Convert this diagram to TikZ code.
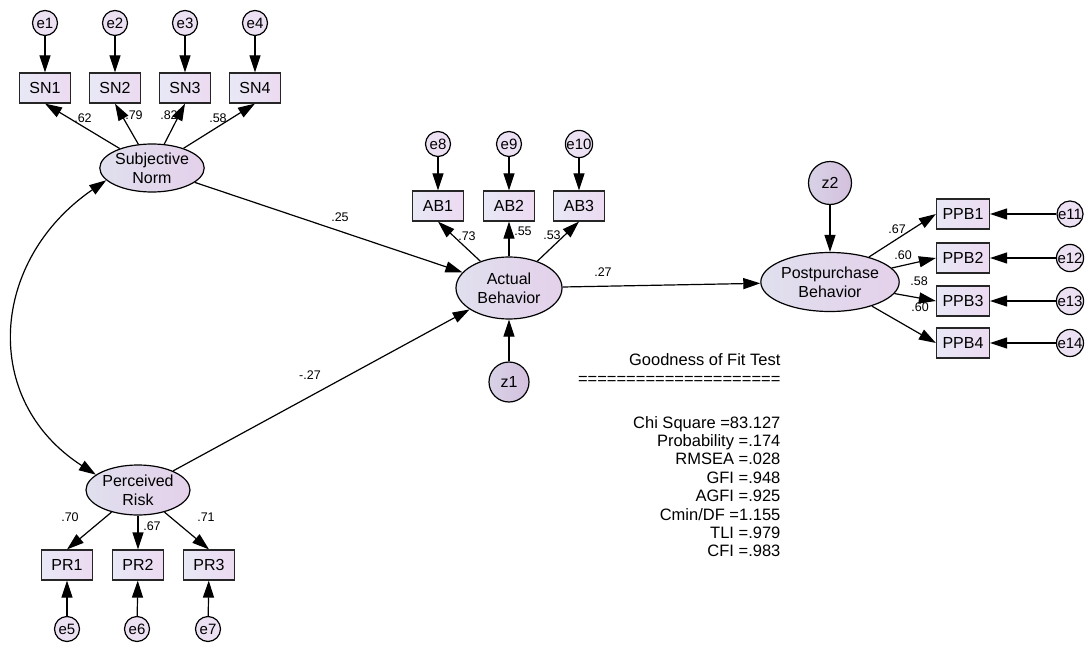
\documentclass[tikz,border=0pt]{standalone}
\usepackage{fontspec}
\setmainfont{Liberation Sans}
\usetikzlibrary{arrows.meta,shapes.geometric}
\definecolor{boxl}{RGB}{232,232,246}
\definecolor{boxr}{RGB}{236,218,241}
\definecolor{latl}{RGB}{224,224,238}
\definecolor{latr}{RGB}{228,208,234}
\definecolor{errc}{RGB}{236,224,243}
\definecolor{disl}{RGB}{216,210,230}
\definecolor{disr}{RGB}{212,192,222}
\begin{document}
\begin{tikzpicture}
  [x=1pt,y=-1pt,line width=1.2pt,
   obs/.style={rectangle,draw=black!85,left color=boxl,right color=boxr,minimum width=51pt,minimum height=30pt,inner sep=0pt,font=\fontsize{16}{19}\selectfont},
   lat/.style={ellipse,draw,left color=latl,right color=latr,inner sep=0pt,align=center,font=\fontsize{16}{19}\selectfont},
   err/.style={circle,draw,fill=errc,minimum size=25pt,inner sep=0pt,font=\fontsize{15}{18}\selectfont},
   dis/.style={circle,draw,left color=disl,right color=disr,minimum size=40pt,inner sep=0pt,font=\fontsize{16}{19}\selectfont},
   lbl/.style={inner sep=0pt,font=\fontsize{12.5}{14}\selectfont},
   gof/.style={inner sep=0pt,anchor=base east,font=\fontsize{16.5}{19}\selectfont},
   arr/.style={-{Triangle[length=17pt,width=11pt]}},
   cov/.style={{Triangle[length=17pt,width=11pt]}-{Triangle[length=17pt,width=11pt]}}]
  \path[use as bounding box,fill=white] (0,0) rectangle (1091,647);

  \node (sn) [lat,minimum width=104pt,minimum height=48pt] at (152,168) {Subjective\\Norm};
  \node (pr) [lat,minimum width=104pt,minimum height=50pt] at (138,490) {Perceived\\Risk};
  \node (ab) [lat,minimum width=106pt,minimum height=62pt] at (509,288) {Actual\\Behavior};
  \node (pb) [lat,minimum width=105pt,minimum height=59pt] at (830,282) {Postpurchase\\Behavior};

  \node (sn1) [obs] at (45,88) {SN1};
  \node (sn2) [obs] at (115,88) {SN2};
  \node (sn3) [obs] at (185,88) {SN3};
  \node (sn4) [obs] at (255,88) {SN4};
  \node (pr1) [obs] at (67,565) {PR1};
  \node (pr2) [obs] at (138,565) {PR2};
  \node (pr3) [obs] at (209,565) {PR3};
  \node (ab1) [obs] at (438,206) {AB1};
  \node (ab2) [obs] at (509,206) {AB2};
  \node (ab3) [obs] at (579,206) {AB3};
  \node (ppb1) [obs,minimum width=53pt] at (963,214) {PPB1};
  \node (ppb2) [obs,minimum width=53pt] at (963,258) {PPB2};
  \node (ppb3) [obs,minimum width=53pt] at (963,301) {PPB3};
  \node (ppb4) [obs,minimum width=53pt] at (963,343) {PPB4};

  \node (e1) [err] at (45,23) {e1};
  \node (e2) [err] at (115,23) {e2};
  \node (e3) [err] at (185,23) {e3};
  \node (e4) [err] at (255,23) {e4};
  \node (e5) [err] at (67,629) {e5};
  \node (e6) [err] at (137,629) {e6};
  \node (e7) [err] at (208,629) {e7};
  \node (e8) [err] at (438,144) {e8};
  \node (e9) [err] at (509,144) {e9};
  \node (e10) [err] at (579,144) {e10};
  \node (e11) [err] at (1070,214) {e11};
  \node (e12) [err] at (1070,258) {e12};
  \node (e13) [err] at (1070,301) {e13};
  \node (e14) [err] at (1070,343) {e14};
  \node (z1) [dis] at (509,382) {z1};
  \node (z2) [dis,minimum size=43pt] at (830,183) {z2};

  \foreach \from/\to in {e1/sn1,e2/sn2,e3/sn3,e4/sn4,sn/sn1.south,sn/sn2.south,sn/sn3.south,sn/sn4.south,
    pr/pr1.north,pr/pr2.north,pr/pr3.north,e5/pr1,e6/pr2,e7/pr3,e8/ab1,e9/ab2,e10/ab3,
    ab/ab1.south,ab/ab2.south,ab/ab3.south,sn/ab,pr/ab,z1/ab,ab/pb,z2/pb,
    pb/ppb1.west,pb/ppb2.west,pb/ppb3.west,pb/ppb4.west,e11/ppb1,e12/ppb2,e13/ppb3,e14/ppb4}
    \draw[arr] (\from) -- (\to);
  \draw[cov] (sn.195) .. controls (-10,260) and (-20,400) .. (pr.160);

  \foreach \nm/\x/\y/\t in {w1/83/118/.62,w2/134/115/.79,w3/169/115/.82,w4/218/118/.58,
    w5/70/517/.70,w6/152/526/.67,w7/206/517/.71,w8/467/236/.73,w9/523/231/.55,w10/552/235/.53,
    w11/340/217/.25,w12/310/375/-.27,w13/603/272/.27,
    w14/897/229/.67,w15/903/255/.60,w16/919/281/.58,w17/920/307/.60}
    \node[lbl] (\nm) at (\x,\y) {\t};

  \node[gof] (gt) at (781,365) {Goodness of Fit Test};
  \node[gof] (gl) at (781,384.5) {=====================};
  \foreach \txt [count=\i] in {Chi Square =83.127,Probability =.174,RMSEA =.028,GFI =.948,
    AGFI =.925,Cmin/DF =1.155,TLI =.979,CFI =.983}
    \node[gof] (s\i) at (781,{428+18.4*(\i-1)}) {\txt};
\end{tikzpicture}
\end{document}
